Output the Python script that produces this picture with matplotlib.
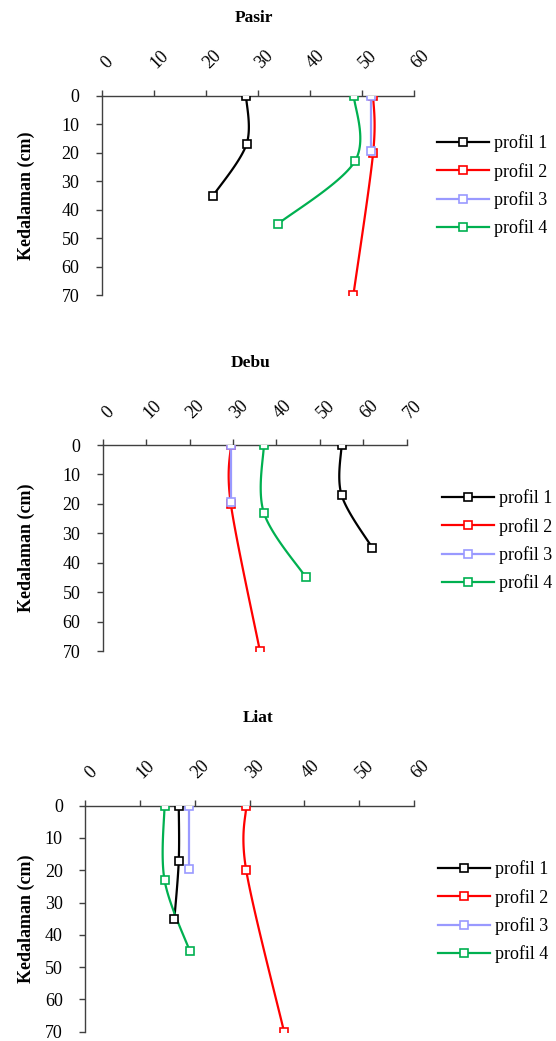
"""Soil depth profiles (Pasir / Debu / Liat) with smoothed lines, Excel style."""

import matplotlib
matplotlib.use("Agg")
import matplotlib.pyplot as plt
import matplotlib.transforms as mtransforms
import numpy as np

plt.rcParams["font.family"] = ["Liberation Serif", "DejaVu Serif"]

PROFILE_LABELS = ["profil 1", "profil 2", "profil 3", "profil 4"]
PROFILE_COLORS = ["#000000", "#FF0000", "#9999FF", "#00B050"]

# depths (cm) of each profile
DEPTH_PASIR = [[0, 17, 35], [0, 20, 70], [0, 19.5], [0, 23, 45]]
DEPTH_DEBU = [[0, 17, 35], [0, 20, 70], [0, 19.5], [0, 23, 45]]
DEPTH_LIAT = [[0, 17, 35], [0, 20, 70], [0, 19.5], [0, 23, 45]]

# measured values per profile
VAL_PASIR = [[27.7, 27.8, 21.4], [52.1, 52.1, 48.3], [51.7, 51.7], [48.4, 48.6, 33.8]]
VAL_DEBU = [[55.0, 55.0, 62.1], [29.5, 29.5, 36.2], [29.5, 29.5], [37.1, 37.1, 46.8]]
VAL_LIAT = [[17.1, 17.1, 16.3], [29.4, 29.4, 36.3], [19.0, 19.0], [14.5, 14.5, 19.1]]

PANELS = [
    # title, values, depths, xmax, axes rect (px: left, top, right, bottom), title pos, legend pos
    ("Pasir", VAL_PASIR, DEPTH_PASIR, 60, (101.7, 95.7, 414.3, 295.3), (254, 18), (437, 186)),
    ("Debu", VAL_DEBU, DEPTH_DEBU, 70, (102.7, 445.0, 406.7, 651.0), (251, 363), (442, 541)),
    ("Liat", VAL_LIAT, DEPTH_LIAT, 60, (85.0, 805.7, 414.0, 1031.7), (258, 718), (438, 912)),
]

W, H = 556, 1041


def smooth_path(ax, xs, ys, n=30):
    """Excel-like smoothed line: Catmull-Rom Bezier computed in display space."""
    pts = ax.transData.transform(np.column_stack([xs, ys]))
    if len(pts) < 3:
        return xs, ys
    out = [pts[0]]
    for i in range(len(pts) - 1):
        p0 = pts[i - 1] if i > 0 else pts[i]
        p1, p2 = pts[i], pts[i + 1]
        p3 = pts[i + 2] if i + 2 < len(pts) else pts[i + 1]
        c1 = p1 + (p2 - p0) / 6
        c2 = p2 - (p3 - p1) / 6
        t = np.linspace(0, 1, n)[1:, None]
        seg = ((1 - t) ** 3 * p1 + 3 * (1 - t) ** 2 * t * c1
               + 3 * (1 - t) * t ** 2 * c2 + t ** 3 * p2)
        out.extend(seg)
    data = ax.transData.inverted().transform(np.array(out))
    return data[:, 0], data[:, 1]


fig = plt.figure(figsize=(W / 100, H / 100), dpi=100)

marker_kw = dict(marker="s", markersize=6.0, markerfacecolor="white", markeredgewidth=1.2)

for title, values, depths, xmax, (l, t, r, b), (tx, ty), (lx, ly) in PANELS:
    ax = fig.add_axes([l / W, 1 - b / H, (r - l) / W, (b - t) / H])
    ax.set_xlim(0, xmax)
    ax.set_ylim(70, 0)

    for vals, deps, color, label in zip(values, depths, PROFILE_COLORS, PROFILE_LABELS):
        sx, sy = smooth_path(ax, vals, deps)
        ax.plot(sx, sy, color=color, linewidth=1.6, zorder=2)
        ax.plot(vals, deps, linestyle="none", markeredgecolor=color, zorder=3, **marker_kw)
        ax.plot([], [], color=color, linewidth=1.6, markeredgecolor=color,
                label=label, **marker_kw)

    for side in ("right", "bottom"):
        ax.spines[side].set_visible(False)
    for side in ("top", "left"):
        ax.spines[side].set_color("#404040")
        ax.spines[side].set_linewidth(1.0)

    ax.xaxis.set_ticks_position("top")
    ax.set_xticks(np.arange(0, xmax + 1, 10))
    ax.set_yticks(np.arange(0, 71, 10))
    ax.tick_params(axis="x", direction="out", length=4, width=1.0,
                   color="#404040", pad=13, labelsize=13)
    ax.tick_params(axis="y", direction="out", length=4, width=1.0,
                   color="#404040", pad=12, labelsize=13)
    offset = mtransforms.ScaledTranslation(6 / 100, 0, fig.dpi_scale_trans)
    for lab in ax.get_xticklabels():
        lab.set_rotation(45)
        lab.set_ha("center")
        lab.set_va("bottom")
        lab.set_transform(lab.get_transform() + offset)

    fig.text(tx / W, 1 - ty / H, title, ha="center", va="center",
             fontsize=12.5, fontweight="bold")
    fig.text(26 / W, 1 - ((t + b) / 2) / H, "Kedalaman (cm)", rotation=90,
             ha="center", va="center", fontsize=13, fontweight="bold")

    ax.legend(loc="center left", bbox_to_anchor=(lx / W, 1 - ly / H),
              bbox_transform=fig.transFigure, frameon=False, fontsize=13,
              handlelength=2.9, handletextpad=0.28, labelspacing=0.58,
              borderpad=0, borderaxespad=0)

fig.savefig("out.png", dpi=100)
